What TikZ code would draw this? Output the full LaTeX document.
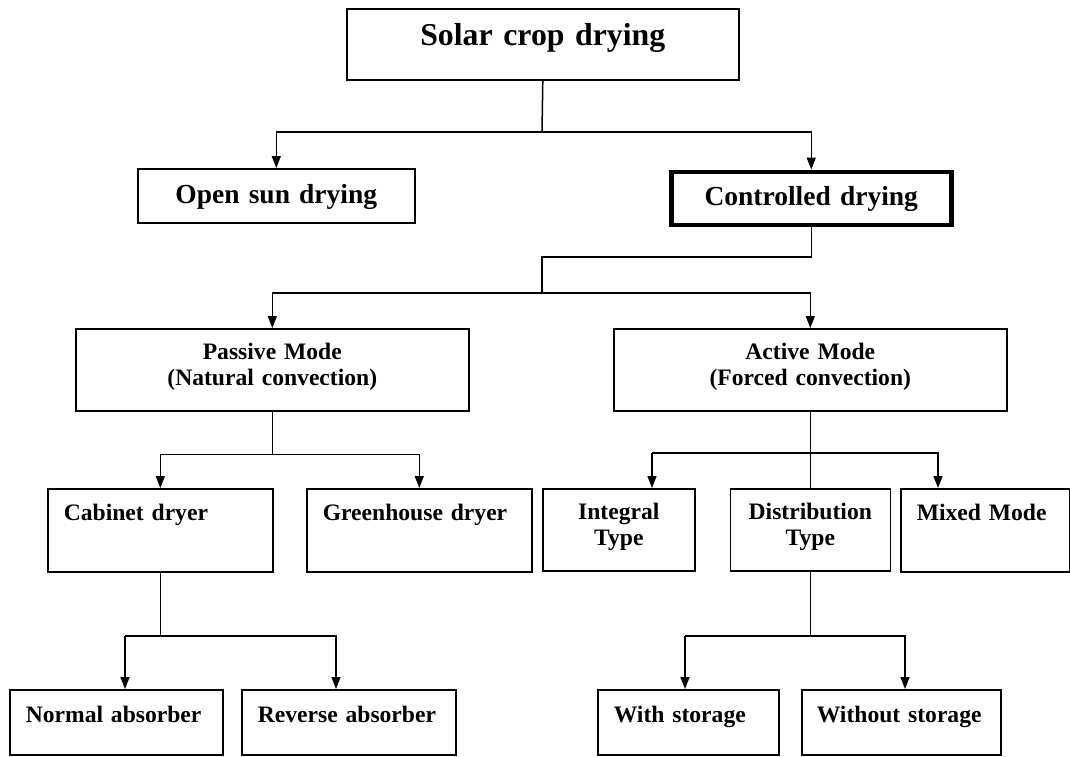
\documentclass[tikz,border=0pt]{standalone}
\usepackage{fontspec}
\setmainfont{Liberation Serif}
\usetikzlibrary{%
  arrows.meta,%
  positioning%
}

\begin{document}
\begin{tikzpicture}[x=1pt,y=-1pt,
    box/.style={draw, rectangle, anchor=north west, line width=1.6pt,
      inner ysep=0pt, inner xsep=0pt, align=center},
    leaf/.style={box, align=left, inner xsep=16pt},
    Big/.style={font=\bfseries\fontsize{31.8}{36}\selectfont},
    Mid/.style={font=\bfseries\fontsize{27.5}{31}\selectfont},
    Small/.style={font=\bfseries\fontsize{23.6}{26}\selectfont},
    row2/.style={text height=31pt, text depth=51pt},
    row4/.style={text height=33pt, text depth=32pt},
    line/.style={line width=1.5pt},
    arr/.style={line, -{Triangle[length=12pt,width=9pt]}}]
  \fill[white] (0,0) rectangle (1070,756);
  \useasboundingbox (0,0) rectangle (1070,756);
  % boxes
  \node [box, Big, text width=392pt, text height=37pt, text depth=34pt]
    (root) at (346,8) {Solar crop drying};
  \node [box, Mid, text width=277pt, text height=35pt, text depth=19pt]
    (opensun) at (137,168) {Open sun drying};
  \node [box, Mid, line width=4.5pt, text width=280pt, text height=33.5pt, text depth=19.5pt]
    (controlled) at (669,169.5) {Controlled drying};
  \node [box, Small, row2, text width=393pt]
    (passive) at (75,328) {Passive Mode\\(Natural convection)};
  \node [box, Small, row2, text width=393pt]
    (active) at (613,328) {Active Mode\\(Forced convection)};
  \node [leaf, Small, row2, text width=193pt, text height=32pt]
    (cabinet) at (47,488) {Cabinet dryer};
  \node [leaf, Small, row2, text width=193pt, text height=32pt]
    (greenhouse) at (306,488) {Greenhouse dryer};
  \node [box, Small, row2, text width=152pt]
    (integral) at (542,488) {Integral\\Type};
  \node [box, Small, row2, text width=160pt]
    (distribution) at (729.5,488) {Distribution\\Type};
  \node [leaf, Small, row2, text width=137pt, text height=32pt]
    (mixed) at (900,488) {Mixed Mode};
  \node [leaf, Small, row4, text width=181pt]
    (normal) at (9,689) {Normal absorber};
  \node [leaf, Small, row4, text width=182pt]
    (reverse) at (241,689) {Reverse absorber};
  \node [leaf, Small, row4, text width=149pt]
    (withstore) at (597,689) {With storage};
  \node [leaf, Small, row4, inner xsep=15pt, text width=169pt]
    (withoutstore) at (801,689) {Without storage};
  % connectors
  \coordinate (j1) at (542,132);
  \draw [line] (root.south) -- (j1);
  \draw [arr] (j1) -| (opensun.north);
  \draw [arr] (j1) -| (controlled.north);
  \coordinate (j2) at (542,257);
  \coordinate (j3) at (542,293);
  \draw [line] (controlled.south) |- (j2) -- (j3);
  \draw [arr] (j3) -| (passive.north);
  \draw [arr] (j3) -| (active.north);
  \draw [line] (passive.south) -- ++(0,43) coordinate (j4);
  \draw [arr] (j4) -| (cabinet.north);
  \draw [arr] (j4) -| (greenhouse.north);
  \draw [line] (active.south) -- (distribution.north);
  \coordinate (k1) at (652,453);
  \coordinate (k2) at (938,453);
  \draw [arr] (k1) -- (k1 |- integral.north);
  \draw [arr] (k1) -- (k2) -- (k2 |- mixed.north);
  \coordinate (n1) at (125,636);
  \coordinate (n2) at (336,636);
  \draw [line] (cabinet.south) -- (cabinet.south |- n1);
  \draw [arr] (n1) -- (n1 |- normal.north);
  \draw [arr] (n1) -- (n2) -- (n2 |- reverse.north);
  \coordinate (s1) at (685,636);
  \coordinate (s2) at (905,636);
  \draw [line] (distribution.south) -- (distribution.south |- s1);
  \draw [arr] (s1) -- (s1 |- withstore.north);
  \draw [arr] (s1) -- (s2) -- (s2 |- withoutstore.north);
\end{tikzpicture}
\end{document}
